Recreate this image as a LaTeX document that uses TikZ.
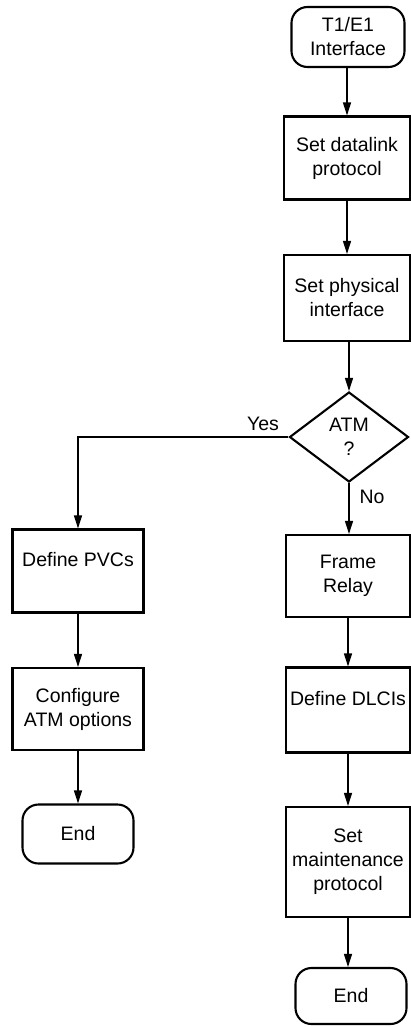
\documentclass[tikz,border=0pt]{standalone}
\usepackage{fontspec}
\setmainfont{Liberation Sans}
\usepackage{tikz}
\usetikzlibrary{shapes.geometric,arrows.meta,positioning}
\newcommand{\flowarrow}{-{Triangle[length=13pt,width=8pt]}}

\begin{document}
\begin{tikzpicture}[x=1pt,y=-1pt,
    every node/.style={font=\fontsize{19.5}{24}\selectfont, align=center},
    box/.style={draw, line width=2.1pt, inner sep=0pt, minimum width=126pt, minimum height=83pt},
    term/.style={draw, line width=2.1pt, inner sep=0pt, rounded corners=16pt},
    decision/.style={draw, diamond, line width=2.1pt, inner sep=0pt, minimum width=119pt, minimum height=90pt},
    link/.style={line width=1.2pt}]
    \useasboundingbox (0,0) rectangle (411,1027);
    % main column
    \node[term, minimum width=113pt, minimum height=60pt] (start) at (348,37) {T1/E1\\Interface};
    \node[box] (dlink) at (347,158) {Set datalink\\protocol};
    \node[box, minimum height=86pt] (phys) at (347,298) {Set physical\\interface};
    \node[decision] (atm) at (349,437) {ATM\\?};
    % frame relay branch
    \node[box, minimum width=124pt, minimum height=82pt] (frelay) at (348,576) {Frame\\Relay};
    \node[box, minimum width=124pt, minimum height=85pt] (dlci) at (348,710) {Define DLCIs\\ \mbox{}};
    \node[box, minimum width=124pt, minimum height=110pt] (maint) at (348,862) {Set\\maintenance\\protocol};
    \node[term, minimum width=111pt, minimum height=56pt] (endr) at (351,996) {End};
    % atm branch
    \node[box, minimum width=131pt] (pvc) at (78,571) {Define PVCs\\ \mbox{}};
    \node[box, minimum width=131pt, minimum height=82pt] (conf) at (78,709) {Configure\\ATM options};
    \node[term, minimum width=111pt, minimum height=59pt] (endl) at (78,834) {End};
    % connectors
    \draw[link,\flowarrow] (start.south -| dlink.north) -- (dlink.north);
    \draw[link,\flowarrow] (dlink) -- (phys);
    \draw[link,\flowarrow] (phys.south -| atm.north) -- (atm.north);
    \draw[link,\flowarrow] (atm.west) -| (pvc.north);
    \draw[link,\flowarrow] (atm.south) -- (atm.south |- frelay.north);
    \draw[link,\flowarrow] (frelay) -- (dlci);
    \draw[link,\flowarrow] (dlci) -- (maint);
    \draw[link,\flowarrow] (maint) -- (endr.north -| maint.south);
    \draw[link,\flowarrow] (pvc) -- (conf);
    \draw[link,\flowarrow] (conf) -- (endl);
    \node[anchor=south east] (yes) at ([xshift=-6pt,yshift=3pt]atm.west) {Yes};
    \node[anchor=north west] (no) at ([xshift=7pt,yshift=-3pt]atm.south) {No};
\end{tikzpicture}
\end{document}
